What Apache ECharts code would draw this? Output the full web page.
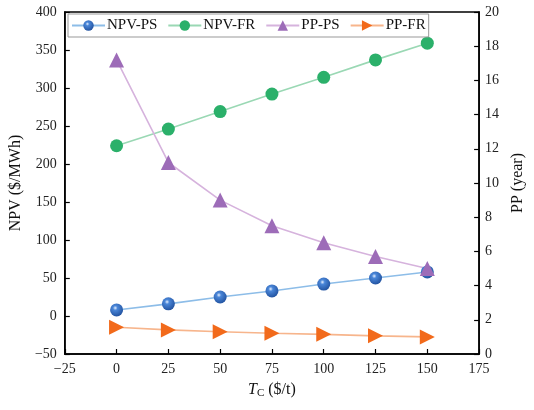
<!DOCTYPE html>
<html><head><meta charset="utf-8">
<script src="https://cdn.jsdelivr.net/npm/echarts@6/dist/echarts.min.js"></script>
<style>html,body{margin:0;padding:0;background:#fff}#c{width:534px;height:410px}</style>
</head><body><div id="c"></div>
<script>
const tc = [0, 25, 50, 75, 100, 125, 150];
const npvPS = [8, 16, 25, 33, 42, 50, 58];
const npvFR = [224, 246, 269, 292, 314, 337, 359];
const ppPS = [17.2, 11.2, 9.0, 7.5, 6.5, 5.7, 5.0];
const ppFR = [1.56, 1.41, 1.3, 1.21, 1.15, 1.06, 1.0];
const seriesNames = ['NPV-PS', 'NPV-FR', 'PP-PS', 'PP-FR'];

const pair = (ys) => tc.map((x, i) => [x, ys[i]]);
const font = 'Liberation Serif';
const minus = (v) => String(v).replace('-', '\u2212');
const chart = echarts.init(document.getElementById('c'));
const axisCommon = {
  axisLine: {show: true, onZero: false, lineStyle: {color: '#000', width: 1.5}},
  axisTick: {show: true, inside: true, length: 5, lineStyle: {color: '#000', width: 1.2}},
  splitLine: {show: false},
  axisLabel: {color: '#222', fontFamily: font, fontSize: 14, formatter: minus},
  nameTextStyle: {color: '#111', fontFamily: font, fontSize: 16}
};
chart.setOption({
  animation: false,
  grid: {left: 64, right: 46, top: 12, bottom: 56, show: true, borderColor: '#000', borderWidth: 1.5},
  legend: {
    data: seriesNames, left: 68, top: 14, orient: 'horizontal',
    itemWidth: 33, itemHeight: 13, itemGap: 10,
    borderColor: '#999', borderWidth: 1, padding: [4, 3, 4, 3],
    textStyle: {fontFamily: font, fontSize: 15, color: '#111', padding: [0, 0, 0, -3]}
  },
  xAxis: Object.assign({}, axisCommon, {
    type: 'value', min: -25, max: 175, interval: 25,
    name: '{i|T}{s|C} ($/t)', nameLocation: 'middle', nameGap: 26,
    nameTextStyle: {color: '#111', fontFamily: font, fontSize: 16,
      rich: {i: {fontStyle: 'italic', fontFamily: font, fontSize: 16, color: '#111'},
             s: {fontFamily: font, fontSize: 11, color: '#111', padding: [8, 0, 0, 0]}}},
    axisLabel: {color: '#222', fontFamily: font, fontSize: 14, margin: 8, formatter: minus}
  }),
  yAxis: [
    Object.assign({}, axisCommon, {type: 'value', min: -50, max: 400, interval: 50,
      name: 'NPV ($/MWh)', nameLocation: 'middle', nameGap: 34, position: 'left'}),
    Object.assign({}, axisCommon, {type: 'value', min: 0, max: 20, interval: 2,
      name: 'PP (year)', nameLocation: 'middle', nameGap: 29, position: 'right',
      axisLabel: {color: '#222', fontFamily: font, fontSize: 14, margin: 6}})
  ],
  series: [
    {name: 'NPV-PS', type: 'line', yAxisIndex: 0, data: pair(npvPS), symbol: 'circle', symbolSize: 13,
     lineStyle: {color: '#8dbde8', width: 1.6},
     itemStyle: {color: {type: 'radial', x: 0.4, y: 0.35, r: 0.7,
       colorStops: [{offset: 0, color: '#e6f0ff'}, {offset: 0.25, color: '#4a86d8'}, {offset: 1, color: '#1f4f9c'}]}}},
    {name: 'NPV-FR', type: 'line', yAxisIndex: 0, data: pair(npvFR), symbol: 'circle', symbolSize: 13,
     lineStyle: {color: '#9ad8b4', width: 1.6}, itemStyle: {color: '#2bb06a'}},
    {name: 'PP-PS', type: 'line', yAxisIndex: 1, data: pair(ppPS), symbol: 'triangle', symbolSize: 15,
     lineStyle: {color: '#d6b3dd', width: 1.6}, itemStyle: {color: '#9d6cb8'}},
    {name: 'PP-FR', type: 'line', yAxisIndex: 1, data: pair(ppFR), symbol: 'triangle', symbolSize: 15, symbolRotate: -90,
     lineStyle: {color: '#f7b58c', width: 1.6}, itemStyle: {color: '#f26a1b'}}
  ]
});
</script></body></html>
